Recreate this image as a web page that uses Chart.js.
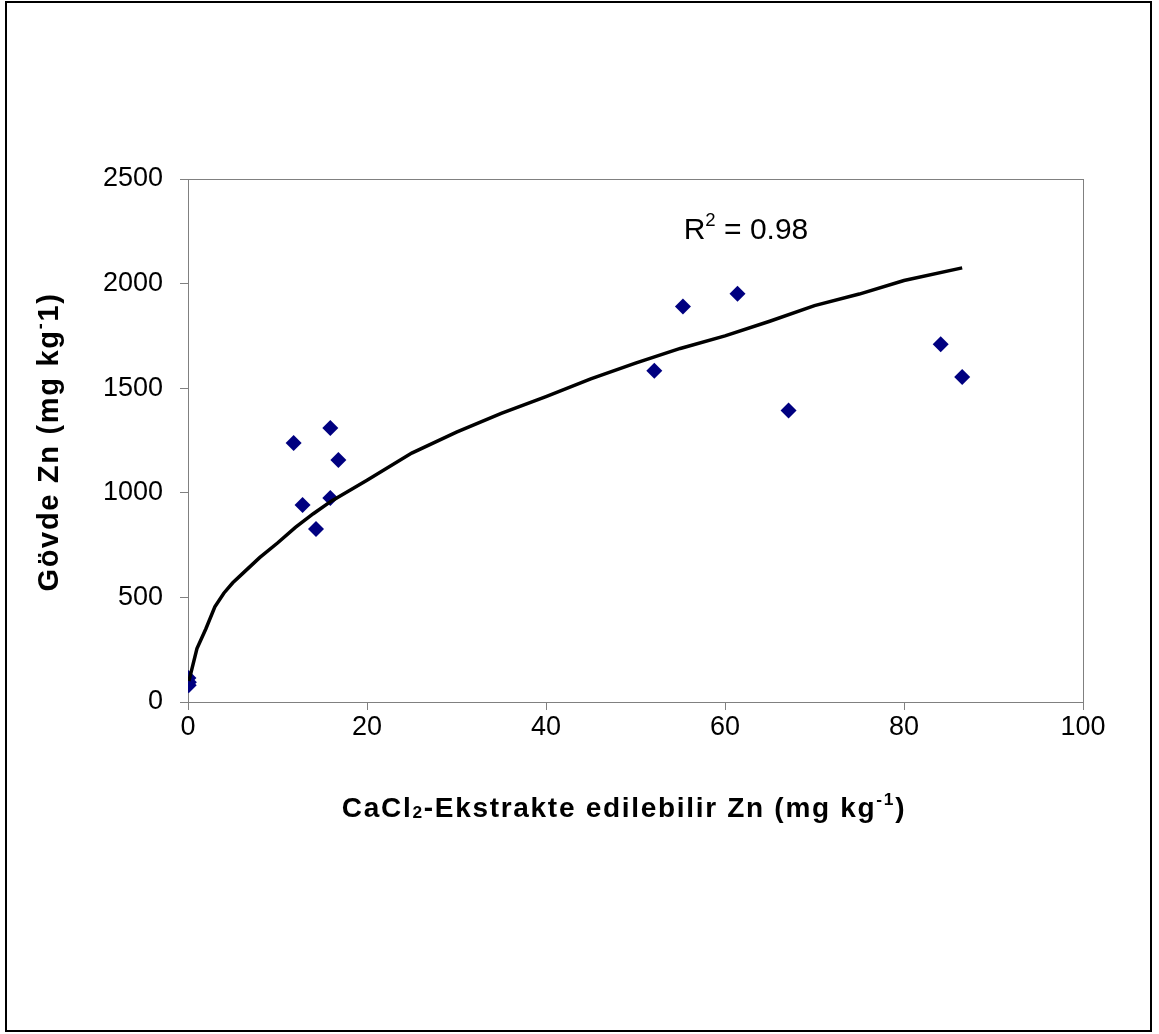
<!DOCTYPE html>
<html>
<head>
<meta charset="utf-8">
<script src="https://cdn.jsdelivr.net/npm/chart.js@4.4.1/dist/chart.umd.min.js"></script>
<style>
  html, body { margin: 0; padding: 0; background: #fff; }
  #wrap { width: 1159px; height: 1034px; position: relative; }
</style>
</head>
<body>
<div id="wrap"><canvas id="chart" width="1159" height="1034"></canvas></div>
<script>
// measured points (CaCl2-extractable Zn vs stem Zn)
const xValues = [0.05, 0.1, 0.08, 11.8, 12.8, 14.3, 15.9, 15.9, 16.8, 52.1, 55.3, 61.4, 67.1, 84.1, 86.5];
const yValues = [115, 95, 80, 1238, 942, 827, 1310, 975, 1157, 1584, 1890, 1952, 1394, 1710, 1553];

// trend line
const trendX = [0.1, 1, 2, 3, 4, 5, 6, 8, 10, 12, 14, 16, 18, 20, 25, 30, 35, 40, 45, 50, 55, 60, 65, 70, 75, 80, 86.5];
const trendY = [100, 255, 350, 455, 520, 570, 610, 690, 760, 835, 900, 960, 1010, 1060, 1190, 1290, 1380, 1460, 1545, 1620, 1690, 1750, 1820, 1895, 1950, 2015, 2075];

const xTicks = [0, 20, 40, 60, 80, 100];
const yTicks = [0, 500, 1000, 1500, 2000, 2500];

const FONT = '"Liberation Sans", Arial, sans-serif';

const points = xValues.map((x, i) => ({ x: x, y: yValues[i] }));
const trend = trendX.map((x, i) => ({ x: x, y: trendY[i] }));

// draws text pieces with optional sub/superscript, centred on x
const drawRich = (ctx, parts, x, y, size, bold, spacing) => {
    const w = bold ? 'bold ' : '';
    ctx.letterSpacing = (spacing || 0) + 'px';
    let total = 0;
    parts.forEach(p => {
        ctx.font = w + (p.s ? size * 0.62 : size) + 'px ' + FONT;
        total += ctx.measureText(p.t).width;
    });
    let cx = x - total / 2;
    parts.forEach(p => {
        ctx.font = w + (p.s ? size * 0.62 : size) + 'px ' + FONT;
        let dy = 0;
        if (p.s === 'sup') dy = -size * 0.42;
        if (p.s === 'sub') dy = size * 0.02;
        ctx.fillText(p.t, cx, y + dy);
        cx += ctx.measureText(p.t).width;
    });
    ctx.letterSpacing = '0px';
};

const decorPlugin = {
    id: 'decor',
    beforeDatasetsDraw(chart) {
        const { ctx, chartArea: a } = chart;
        ctx.save();
        ctx.strokeStyle = '#808080';
        ctx.lineWidth = 1;
        ctx.strokeRect(a.left + 0.5, a.top + 0.5, a.right - a.left, a.bottom - a.top);
        ctx.restore();
    },
    afterDraw(chart) {
        const { ctx } = chart;
        ctx.save();
        // outer frame
        ctx.strokeStyle = '#000';
        ctx.lineWidth = 2;
        ctx.strokeRect(6, 2, 1145, 1029);

        ctx.fillStyle = '#000';
        ctx.textBaseline = 'alphabetic';
        ctx.textAlign = 'left';
        drawRich(ctx, [
            { t: 'CaCl' }, { t: '2', s: 'sub' },
            { t: '-Ekstrakte edilebilir Zn (mg kg' }, { t: '-1', s: 'sup' }, { t: ')' }
        ], 624, 817, 28, true, 1.7);

        ctx.save();
        ctx.translate(58, 442);
        ctx.rotate(-Math.PI / 2);
        drawRich(ctx, [
            { t: 'Gövde Zn (mg kg' }, { t: '-', s: 'sup' }, { t: '1)' }
        ], 0, 0, 29, true, 1.7);
        ctx.restore();

        drawRich(ctx, [
            { t: 'R' }, { t: '2', s: 'sup' }, { t: ' = 0.98' }
        ], 746, 239, 30, false, 0);
        ctx.restore();
    }
};

const ctx = document.getElementById('chart').getContext('2d');
const chart = new Chart(ctx, {
    type: 'scatter',
    data: {
        datasets: [{
            label: 'trend',
            data: trend,
            showLine: true,
            borderColor: '#000',
            borderWidth: 3.5,
            pointRadius: 0,
            tension: 0,
            order: 0
        }, {
            label: 'Zn',
            data: points,
            backgroundColor: '#000080',
            borderColor: '#000080',
            pointStyle: 'rectRot',
            pointRadius: 8,
            borderWidth: 0,
            order: 1
        }]
    },
    options: {
        responsive: false,
        animation: false,
        layout: { padding: { left: 0, top: 179, right: 76, bottom: 0 } },
        plugins: {
            legend: { display: false },
            tooltip: { enabled: false }
        },
        scales: {
            x: {
                type: 'linear',
                min: 0,
                max: 100,
                afterFit: (s) => { s.height = 332; },
                afterBuildTicks: (s) => { s.ticks = xTicks.map(v => ({ value: v })); },
                ticks: {
                    color: '#000', padding: 1,
                    font: { family: FONT, size: 27 },
                    callback: (v) => String(v)
                },
                grid: { drawOnChartArea: false, drawTicks: true, tickLength: 8, color: '#808080' },
                border: { color: '#808080', width: 1 }
            },
            y: {
                type: 'linear',
                min: 0,
                max: 2500,
                afterFit: (s) => { s.width = 188; },
                afterBuildTicks: (s) => { s.ticks = yTicks.map(v => ({ value: v })); },
                ticks: {
                    color: '#000', padding: 17,
                    font: { family: FONT, size: 27 },
                    callback: (v) => String(v)
                },
                grid: { drawOnChartArea: false, drawTicks: true, tickLength: 8, color: '#808080' },
                border: { color: '#808080', width: 1 }
            }
        }
    },
    plugins: [decorPlugin]
});
</script>
</body>
</html>
